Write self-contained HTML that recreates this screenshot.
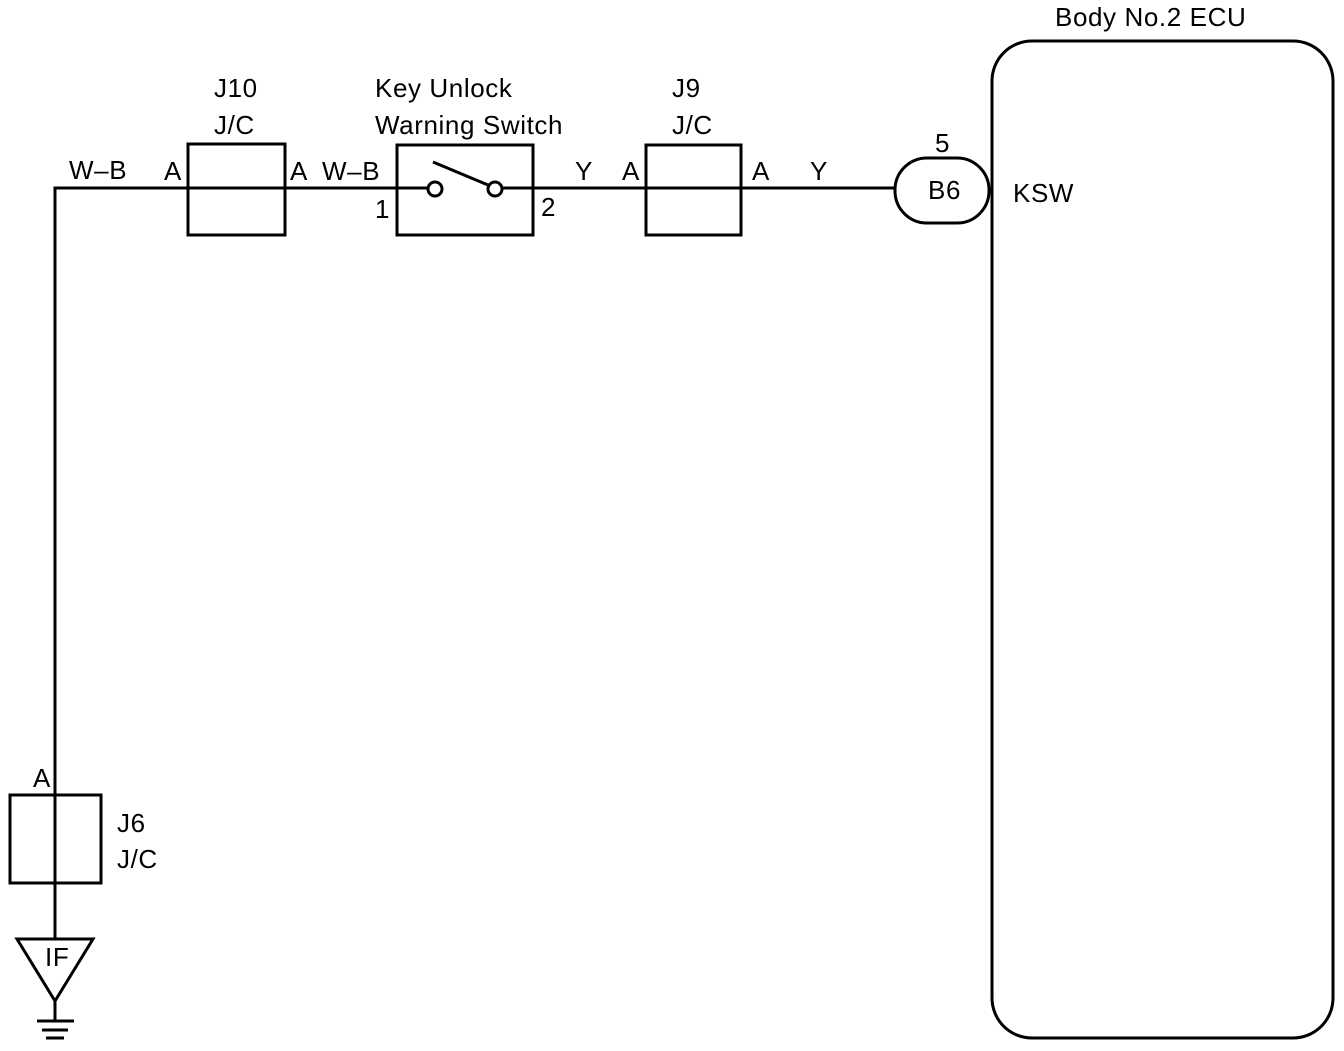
<!DOCTYPE html>
<html><head><style>body{margin:0;background:#fff}</style></head><body>
<svg width="1344" height="1046" viewBox="0 0 1344 1046" xmlns="http://www.w3.org/2000/svg" font-family="Liberation Sans, sans-serif" font-size="26" letter-spacing="0.6" fill="#000">
<g stroke="#000" stroke-width="3" fill="none">
<polyline points="55,938 55,188 895,188"/>
<rect x="188" y="144" width="97" height="91" fill="none"/>
<rect x="397" y="145" width="136" height="90" fill="#fff"/>
<line x1="397" y1="188" x2="428" y2="188"/>
<line x1="500" y1="188" x2="533" y2="188"/>
<circle cx="435" cy="189" r="7" fill="#fff"/>
<circle cx="495" cy="189" r="7" fill="#fff"/>
<line x1="433" y1="162" x2="488" y2="185"/>
<rect x="646" y="145" width="95" height="90"/>
<rect x="895" y="158" width="94" height="65" rx="32" fill="#fff"/>
<rect x="992" y="41" width="341" height="997" rx="40"/>
<rect x="10" y="795" width="91" height="88"/>
<polygon points="17,939 93,939 55,1001"/>
<line x1="55" y1="1001" x2="55" y2="1020"/>
<line x1="37" y1="1021" x2="74" y2="1021"/>
<line x1="42" y1="1030" x2="68" y2="1030"/>
<line x1="46" y1="1038" x2="64" y2="1038"/>
</g>
<text x="69" y="179">W–B</text>
<text x="164" y="180">A</text>
<text x="290" y="180">A</text>
<text x="322" y="180">W–B</text>
<text x="214" y="97">J10</text>
<text x="214" y="134">J/C</text>
<text x="375" y="97">Key Unlock</text>
<text x="375" y="134">Warning Switch</text>
<text x="375" y="218">1</text>
<text x="541" y="216">2</text>
<text x="575" y="180">Y</text>
<text x="622" y="180">A</text>
<text x="752" y="180">A</text>
<text x="810" y="180">Y</text>
<text x="672" y="97">J9</text>
<text x="672" y="134">J/C</text>
<text x="935" y="152">5</text>
<text x="928" y="199">B6</text>
<text x="1013" y="202">KSW</text>
<text x="1055" y="26">Body No.2 ECU</text>
<text x="33" y="787">A</text>
<text x="117" y="832">J6</text>
<text x="117" y="868">J/C</text>
<text x="45" y="966">IF</text>
</svg>
</body></html>
